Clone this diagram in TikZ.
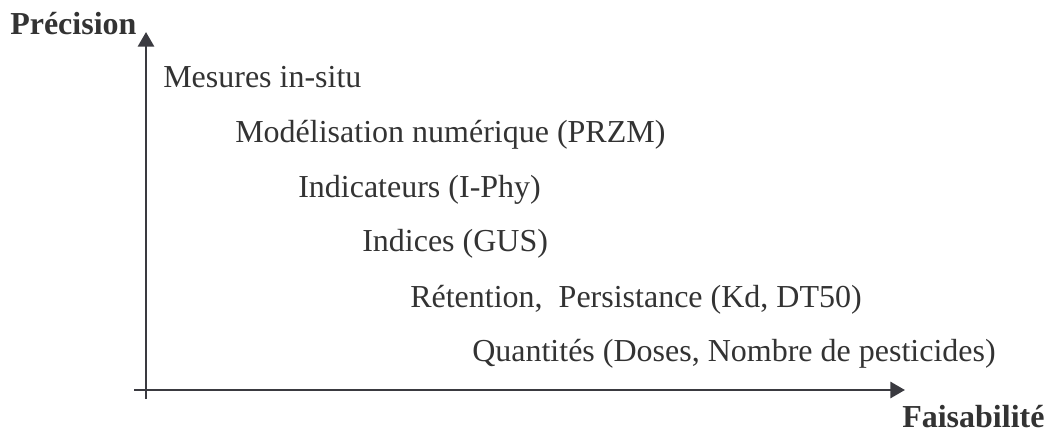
\documentclass[tikz,border=0pt]{standalone}
\usepackage{fontspec}
\setmainfont{Liberation Serif}
\usetikzlibrary{positioning, arrows.meta}
\definecolor{grisaxe}{RGB}{58,58,64}
\definecolor{gristexte}{RGB}{51,51,51}

\begin{document}
\begin{tikzpicture}[
    x=0.75pt, y=-0.75pt,
    >={Triangle[length=11pt, width=12pt]},
    % Stili per le scritte e gli assi
    niveau/.style={anchor=base west, inner sep=0pt, text=gristexte, font=\fontsize{24}{28}\selectfont},
    titre/.style={niveau, font=\fontsize{24}{28}\selectfont\bfseries},
    axe/.style={draw=grisaxe, line width=2.2pt}
]
    \useasboundingbox (0,0) rectangle (1045,438);

    % Punti degli assi
    \coordinate (ybas) at (146,399);
    \coordinate (yhaut) at (146,32);
    \coordinate (xgauche) at (134,390);
    \coordinate (xdroite) at (905,390);

    % Assi
    \draw[axe, ->] (ybas) -- (yhaut);
    \draw[axe, ->] (xgauche) -- (xdroite);

    % Titoli degli assi
    \node[titre] (precision) at (10,35) {Précision};
    \node[titre] (faisabilite) at (902,427) {Faisabilité};

    % Livelli
    \node[niveau] (mesures) at (163,88) {Mesures in-situ};
    \node[niveau] (modelisation) at (235,143) {Modélisation numérique (PRZM)};
    \node[niveau] (indicateurs) at (298,198) {Indicateurs (I-Phy)};
    \node[niveau] (indices) at (362,252) {Indices (GUS)};
    \node[niveau] (retention) at (410,307) {Rétention,~ Persistance (Kd, DT50)};
    \node[niveau] (quantites) at (472,361) {Quantités (Doses, Nombre de pesticides)};

\end{tikzpicture}
\end{document}
